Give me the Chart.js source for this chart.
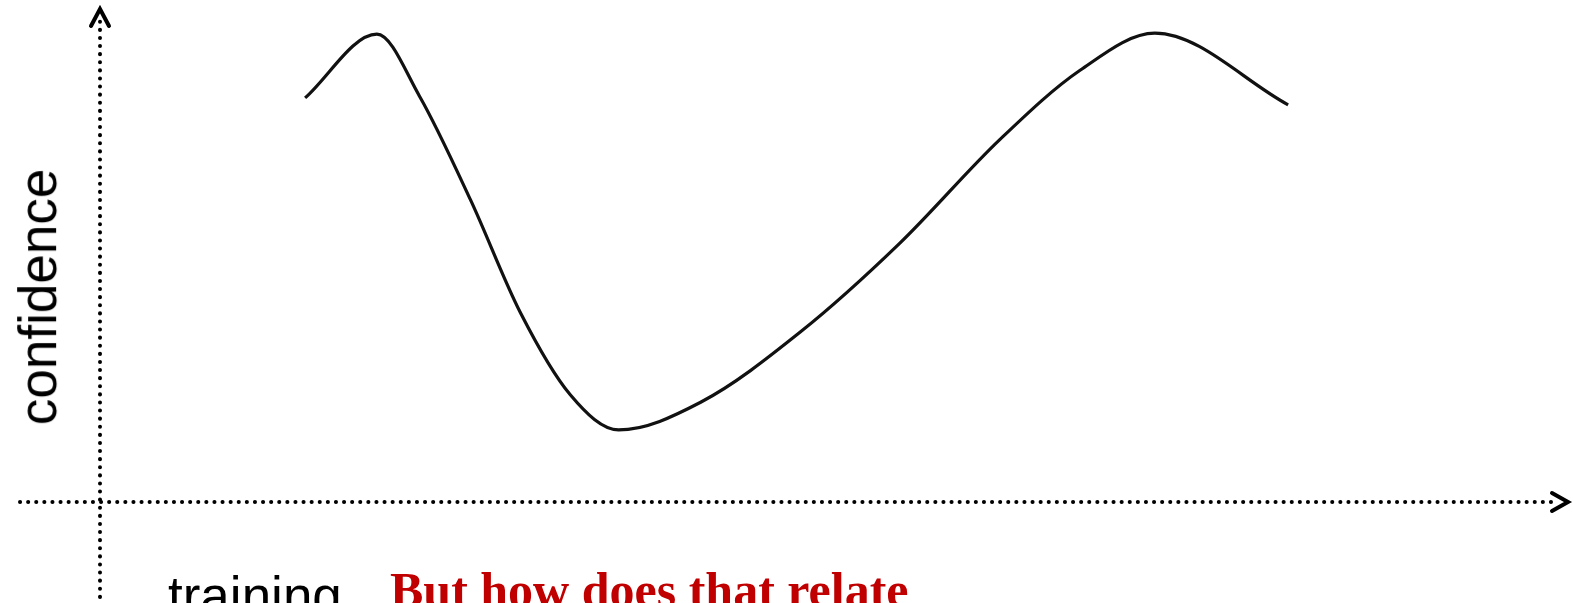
<!DOCTYPE html>
<html lang="en">
<head>
    <meta charset="UTF-8">
    <title>Confidence vs training</title>
    <script src="https://cdn.jsdelivr.net/npm/chart.js@4/dist/chart.umd.min.js"></script>
    <style>
        html, body { margin: 0; padding: 0; background: #fff; overflow: hidden; }
        #wrap { position: relative; width: 1573px; height: 603px; overflow: hidden; }
        .lbl { position: absolute; white-space: nowrap; line-height: 1; }
        #yLabel { font: 53px "Liberation Sans", Arial, sans-serif; color: #000;
                  left: 52px; top: 297px; transform-origin: 0 0; }
        #xLabel { font: 53px "Liberation Sans", Arial, sans-serif; color: #000; left: 168px; top: 565px; }
        #question { font: bold 50px "Liberation Serif", "DejaVu Serif", serif; color: #c00000; left: 390px; top: 561px; }
    </style>
</head>
<body>
<div id="wrap">
    <canvas id="confChart"></canvas>
    <span class="lbl" id="yLabel">confidence</span>
    <span class="lbl" id="xLabel">training</span>
    <span class="lbl" id="question">But how does that relate</span>
</div>

<script>
    // curve: x = training (0-100), y = confidence (0-100)
    const training = [14.0, 18.9, 21.8, 25.3, 28.7, 32.1, 35.4, 41.0, 47.8, 54.6, 61.4, 66.9, 72.0, 81.1];
    const confidence = [81.8, 94.7, 82.2, 61.1, 38.3, 21.7, 14.6, 20.2, 34.4, 52.4, 73.3, 87.4, 94.9, 80.4];

    const points = training.map((t, i) => ({ x: t, y: confidence[i] }));

    // rotate the y label so it reads bottom to top, centred on its anchor
    const yl = document.getElementById('yLabel');
    yl.style.transform = 'rotate(-90deg) translate(-50%, -' + 0.8465 * 53 + 'px)';

    const axesPlugin = {
        id: 'dottedAxes',
        beforeDatasetsDraw(chart) {
            const ctx = chart.ctx;
            const x0 = chart.scales.x.getPixelForValue(0);
            const y0 = chart.scales.y.getPixelForValue(0);
            ctx.save();
            ctx.strokeStyle = '#000';
            ctx.lineCap = 'round';
            ctx.lineWidth = 4;
            ctx.setLineDash([0.1, 8]);
            ctx.beginPath();
            ctx.moveTo(x0, 605);
            ctx.lineTo(x0, 18);
            ctx.moveTo(20, y0);
            ctx.lineTo(1558, y0);
            ctx.stroke();
            // arrow heads
            ctx.setLineDash([]);
            ctx.lineWidth = 4;
            ctx.beginPath();
            ctx.moveTo(x0 - 9, 26);
            ctx.lineTo(x0, 9);
            ctx.lineTo(x0 + 9, 26);
            ctx.moveTo(1552, y0 - 9);
            ctx.lineTo(1568, y0);
            ctx.lineTo(1552, y0 + 9);
            ctx.stroke();
            ctx.restore();
        }
    };

    const ctx = document.getElementById('confChart').getContext('2d');
    const confChart = new Chart(ctx, {
        type: 'line',
        data: {
            datasets: [{
                data: points,
                borderColor: '#111',
                borderWidth: 3.2,
                pointRadius: 0,
                fill: false,
                cubicInterpolationMode: 'monotone'
            }]
        },
        options: {
            responsive: true,
            maintainAspectRatio: false,
            animation: false,
            layout: { padding: { left: 100, right: 8, top: 8, bottom: 101 } },
            plugins: { legend: { display: false }, tooltip: { enabled: false } },
            scales: {
                x: { type: 'linear', min: 0, max: 100, display: false },
                y: { type: 'linear', min: 0, max: 100, display: false }
            }
        },
        plugins: [axesPlugin]
    });
</script>
</body>
</html>
